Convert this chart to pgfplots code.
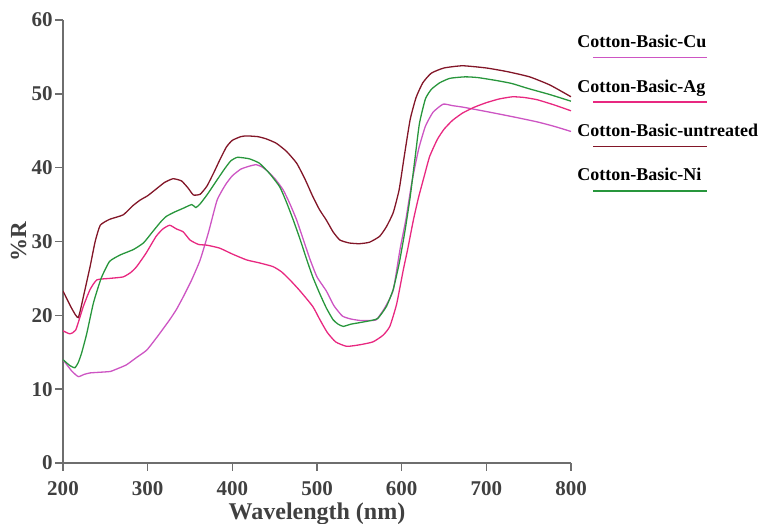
\documentclass[border=0pt]{standalone}
\usepackage{pgfplots}
\pgfplotsset{compat=1.18}
\usepackage{fontspec}
\setmainfont{Liberation Serif}

\definecolor{untr}{RGB}{130,22,40}
\definecolor{nigreen}{RGB}{40,150,60}
\definecolor{cuvio}{RGB}{205,85,195}
\definecolor{agpink}{RGB}{232,40,128}
\definecolor{axgray}{RGB}{110,110,110}

\begin{document}
\begin{tikzpicture}
\begin{axis}[
    scale only axis,
    width=254pt,
    height=221.5pt,
    xmin=200, xmax=800,
    ymin=0, ymax=60,
    xtick={200,300,...,800},
    ytick={0,10,...,60},
    axis x line*=bottom,
    axis y line*=left,
    axis line style={axgray, line width=0.8pt},
    tick style={axgray, line width=0.8pt},
    tick align=outside,
    major tick length=4pt,
    /pgf/number format/assume math mode=true,
    /pgf/number format/1000 sep={},
    tick label style={font=\bfseries\fontsize{10.5}{12}\selectfont, text=black!75},
    xticklabel style={yshift=-1.5pt},
    yticklabel style={inner xsep=0pt, xshift=-1pt},
    xlabel={\bfseries Wavelength (nm)},
    ylabel={\bfseries \%R},
    label style={font=\bfseries\fontsize{11.5}{13}\selectfont, text=black!75},
    xlabel style={yshift=3pt, font=\bfseries\large},
    ylabel style={yshift=-1pt},
    legend style={draw=none, fill=none, at={(axis description cs:1.0,0.985)},
        anchor=north west, font=\bfseries\small, row sep=10.5pt, inner xsep=1pt},
    legend cell align=left,
    legend image code/.code={\draw[#1,overlay] (0.35cm,-0.26cm) -- (2.35cm,-0.26cm);},
    every axis plot/.append style={line width=0.65pt, smooth, tension=0.3},
]
\addplot[cuvio] coordinates {
(200,14)(210,12.5)(218,11.7)(225,12)(232,12.2)(245,12.3)(256,12.4)(265,12.8)(275,13.3)(287,14.3)(299,15.3)(312,17.2)(326,19.4)(334,20.8)(342,22.5)(352,24.8)(362,27.5)(372,31.3)(382,35.6)(392,37.7)(400,38.9)(410,39.8)(420,40.2)(428,40.4)(435,40.1)(442,39.5)(451,38.4)(460,37)(468,35.1)(476,32.9)(484,30.2)(492,27.5)(500,25.2)(511,23.3)(520,21.3)(530,19.9)(540,19.5)(551,19.3)(560,19.3)(570,19.4)(580,21)(590,23.4)(598,28.9)(605,33)(612,38)(620,42.5)(628,45.6)(637,47.5)(649,48.6)(660,48.4)(672,48.2)(700,47.6)(731,46.9)(760,46.2)(780,45.6)(800,44.9)
};
\addlegendentry{Cotton-Basic-Cu}
\addplot[agpink] coordinates {
(200,17.9)(208,17.5)(215,18)(224,21.2)(232,23.5)(240,24.8)(255,25)(271,25.2)(280,25.8)(287,26.6)(298,28.4)(310,30.7)(318,31.7)(326,32.2)(334,31.7)(342,31.3)(350,30.2)(360,29.6)(370,29.5)(385,29.1)(400,28.3)(417,27.5)(432,27.1)(448,26.6)(458,25.9)(468,24.8)(480,23.3)(495,21.2)(503,19.5)(512,17.7)(522,16.4)(535,15.8)(550,16.0)(566,16.4)(578,17.3)(586,18.5)(594,21.5)(602,26.2)(607,28.9)(614,33)(620,36)(627,39)(633,41.5)(642,43.8)(650,45.2)(660,46.4)(672,47.4)(686,48.2)(700,48.8)(715,49.3)(731,49.6)(745,49.5)(760,49.2)(780,48.5)(800,47.7)
};
\addlegendentry{Cotton-Basic-Ag}
\addplot[untr] coordinates {
(200,23.3)(210,21)(218,19.7)(225,23)(232,26.6)(238,30)(244,32.2)(255,33)(271,33.6)(282,34.8)(291,35.6)(300,36.2)(310,37.1)(320,38)(330,38.5)(340,38.2)(348,37.2)(354,36.3)(362,36.4)(370,37.5)(378,39.3)(385,41)(393,42.8)(400,43.7)(410,44.2)(417,44.3)(430,44.2)(440,43.9)(452,43.3)(464,42.2)(476,40.6)(486,38.4)(495,36.1)(503,34.3)(511,32.9)(519,31.3)(527,30.2)(538,29.8)(550,29.7)(562,29.9)(574,30.7)(582,32)(590,33.9)(597,37)(603,41.5)(610,46.5)(617,49.5)(625,51.5)(635,52.8)(650,53.5)(672,53.8)(700,53.5)(725,53)(751,52.3)(775,51.2)(800,49.6)
};
\addlegendentry{Cotton-Basic-untreated}
\addplot[nigreen] coordinates {
(200,14)(208,13.2)(214,12.9)(218,13.6)(222,14.9)(228,17.5)(236,21.7)(245,25)(255,27.3)(268,28.2)(283,28.9)(295,29.8)(305,31.2)(315,32.6)(322,33.4)(332,34)(342,34.5)(352,35)(357,34.6)(362,35.1)(370,36.3)(380,38)(390,39.7)(398,40.9)(406,41.4)(420,41.2)(432,40.6)(444,39.2)(456,37.4)(464,35.3)(472,32.9)(480,30.3)(488,27.5)(495,25.2)(503,23)(511,21)(519,19.4)(525,18.8)(531,18.5)(540,18.8)(550,19.0)(564,19.3)(572,19.6)(582,21.2)(590,23.5)(597,27)(604,31.5)(610,36)(616,41.5)(621,46)(628,49.3)(635,50.6)(645,51.5)(657,52.1)(675,52.3)(690,52.2)(712,51.8)(730,51.4)(750,50.7)(775,49.9)(800,49)
};
\addlegendentry{Cotton-Basic-Ni}
\end{axis}
\pgfresetboundingbox
\useasboundingbox ([xshift=-31.5pt,yshift=-30.5pt]current axis.south west) rectangle ([xshift=95pt,yshift=10pt]current axis.north east);
\end{tikzpicture}
\end{document}
